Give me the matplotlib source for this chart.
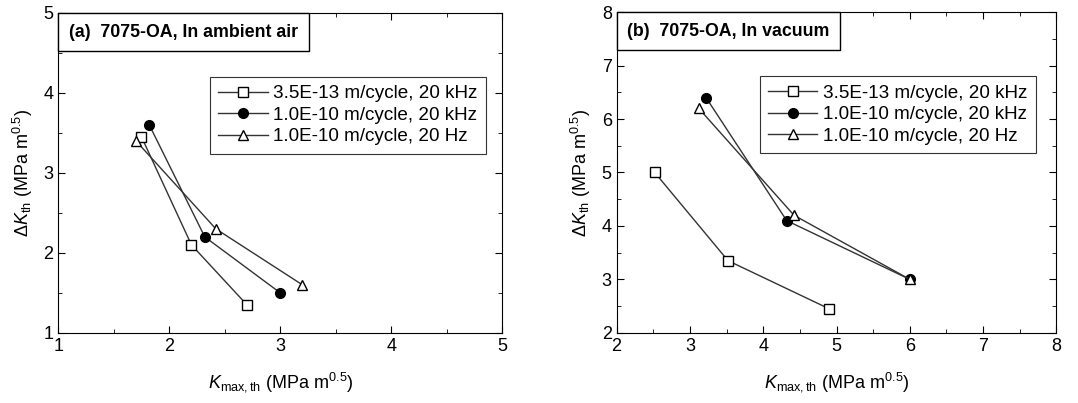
import matplotlib.pyplot as plt
from matplotlib.offsetbox import AnchoredText
from matplotlib.ticker import MultipleLocator

plt.rcParams['font.family'] = ['Liberation Sans', 'DejaVu Sans']
plt.rcParams['mathtext.fontset'] = 'custom'
plt.rcParams['mathtext.rm'] = 'Liberation Sans'
plt.rcParams['mathtext.it'] = 'Liberation Sans:italic'

labels = ['3.5E-13 m/cycle, 20 kHz', '1.0E-10 m/cycle, 20 kHz', '1.0E-10 m/cycle, 20 Hz']
markers = ['s', 'o', '^']
faces = ['white', 'black', 'white']

# (a) ambient air
air_x = [[1.75, 2.2, 2.7], [1.82, 2.32, 3.0], [1.7, 2.42, 3.2]]
air_y = [[3.45, 2.1, 1.35], [3.6, 2.2, 1.5], [3.4, 2.3, 1.6]]

# (b) vacuum
vac_x = [[2.52, 3.52, 4.9], [3.22, 4.32, 6.0], [3.12, 4.42, 6.0]]
vac_y = [[5.0, 3.35, 2.45], [6.4, 4.1, 3.0], [6.2, 4.2, 3.0]]

fig = plt.figure(figsize=(10.78, 4.03), dpi=100)
ax1 = fig.add_axes([0.054, 0.174, 0.412, 0.794])
ax2 = fig.add_axes([0.572, 0.174, 0.408, 0.796])

def draw(ax, xs, ys, title, xlim, ylim, leg_anchor):
    for i in range(3):
        ax.plot(xs[i], ys[i], marker=markers[i], mfc=faces[i], mec='black',
                color='#333333', lw=1.0, ms=7.5 if markers[i] != 'o' else 7,
                label=labels[i])
    ax.set_xlim(*xlim)
    ax.set_ylim(*ylim)
    ax.xaxis.set_major_locator(MultipleLocator(1))
    ax.yaxis.set_major_locator(MultipleLocator(1))
    ax.xaxis.set_minor_locator(MultipleLocator(0.5))
    ax.yaxis.set_minor_locator(MultipleLocator(0.5))
    ax.tick_params(which='both', direction='in', top=True, right=True, labelsize=13)
    ax.tick_params(which='major', length=5)
    ax.tick_params(which='minor', length=3)
    ax.set_xlabel(r'$K_{\rm max,th}$ (MPa m$^{0.5}$)', fontsize=13, labelpad=11)
    ax.set_ylabel(r'$\Delta K_{\rm th}$ (MPa m$^{0.5}$)', fontsize=13, labelpad=6)
    at = AnchoredText(title, loc='upper left', borderpad=0, pad=0.6,
                      prop=dict(weight='bold', size=12.8))
    at.patch.set_boxstyle('square,pad=0')
    ax.add_artist(at)
    leg = ax.legend(loc='upper right', bbox_to_anchor=leg_anchor, fontsize=13.6,
                    fancybox=False, edgecolor='black', handlelength=2.6,
                    handletextpad=0.3, borderpad=0.45, labelspacing=0.22)
    leg.get_frame().set_linewidth(0.8)

draw(ax1, air_x, air_y, '(a)  7075-OA, In ambient air', (1, 5), (1, 5), (0.985, 0.83))
draw(ax2, vac_x, vac_y, '(b)  7075-OA, In vacuum', (2, 8), (2, 8), (0.975, 0.83))

fig.savefig('out.png', dpi=100)
